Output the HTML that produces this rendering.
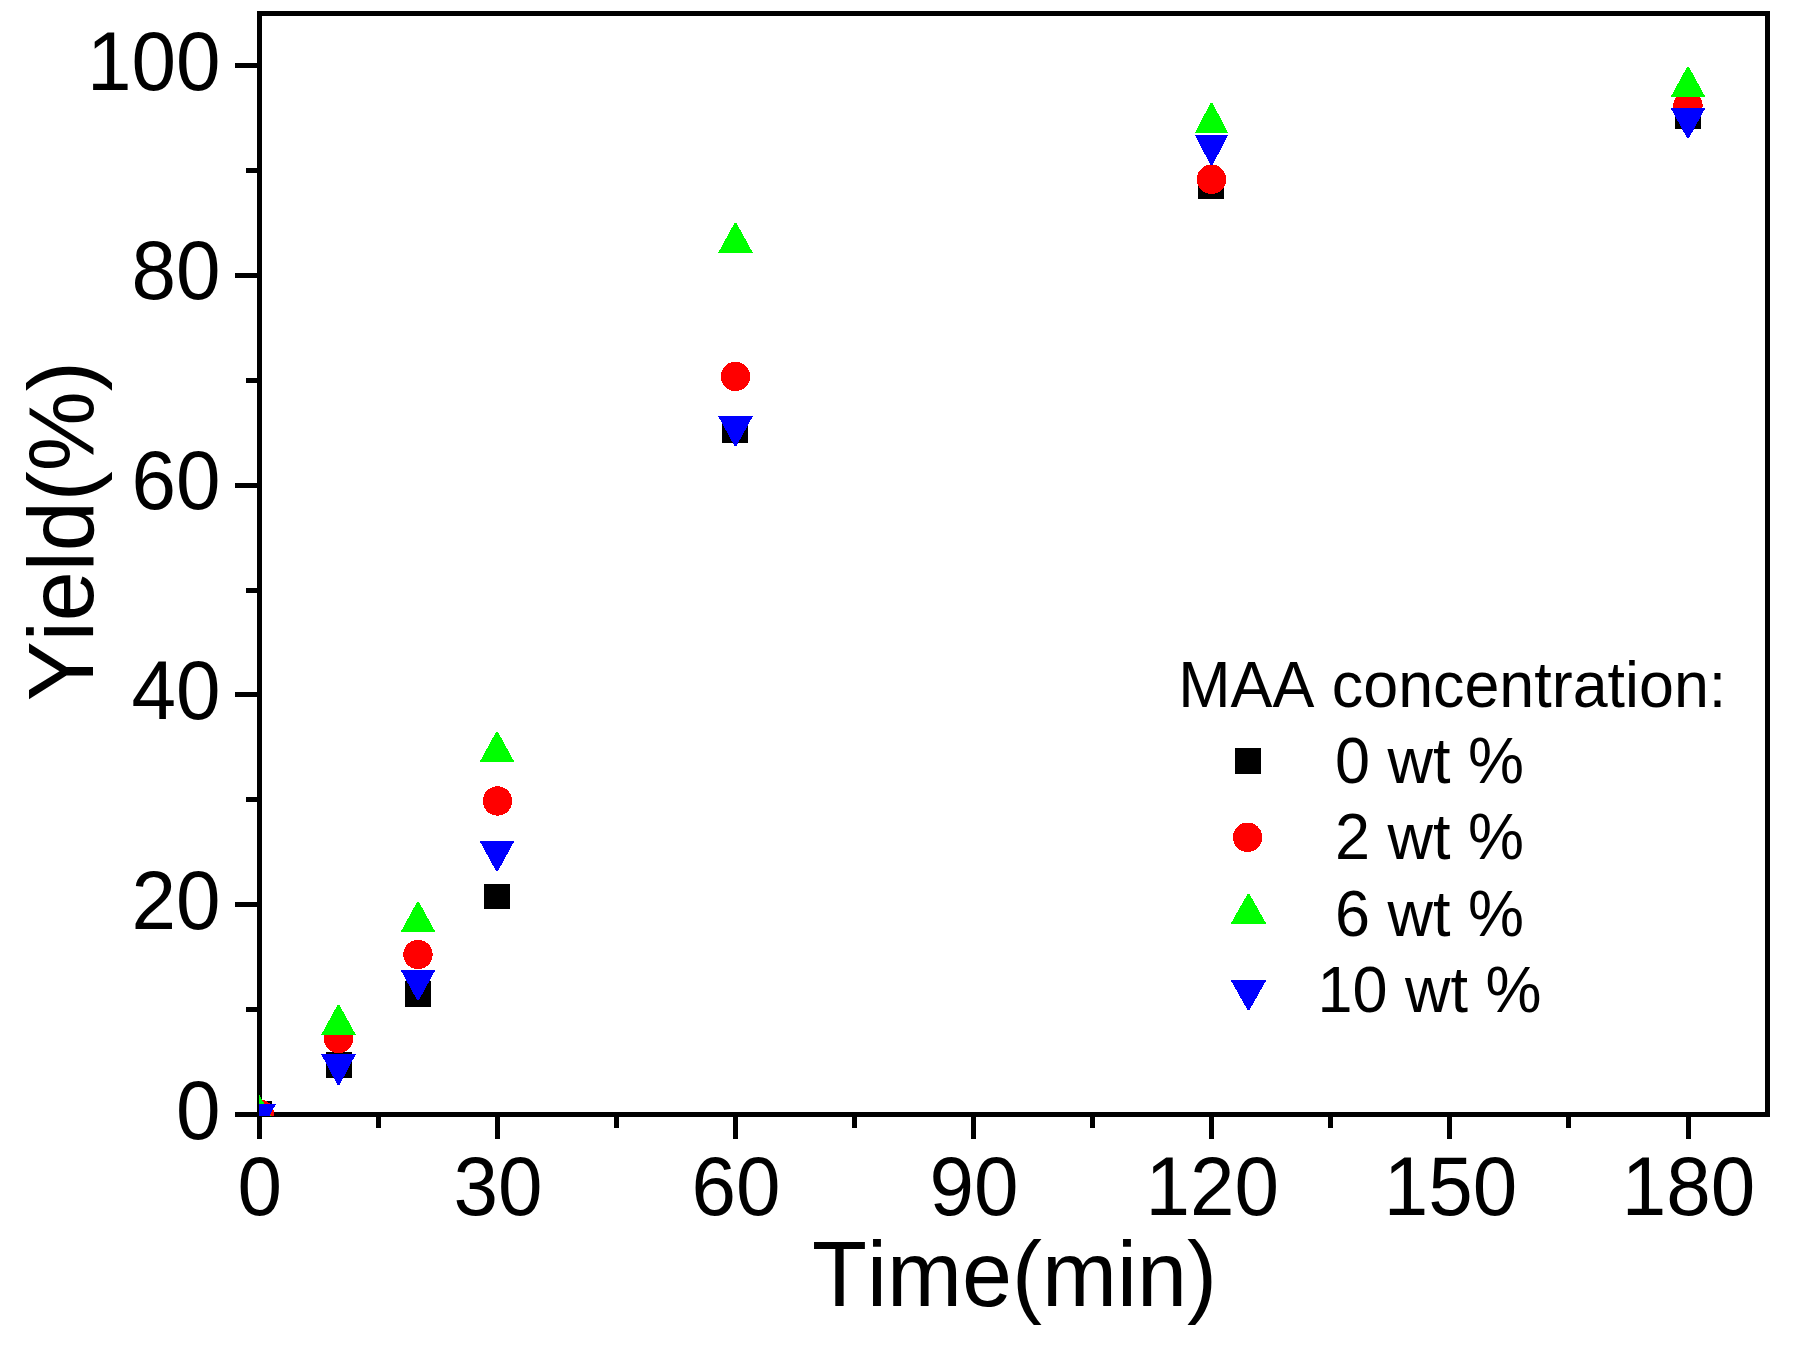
<!DOCTYPE html>
<html lang="en">
<head>
<meta charset="utf-8">
<title>Yield vs Time - MAA concentration</title>
<style>
html,body{margin:0;padding:0;background:#fff;}
body{width:1802px;height:1347px;overflow:hidden;}
svg{display:block;}
text{font-family:"Liberation Sans",Arial,Helvetica,sans-serif;fill:#000;font-kerning:none;font-variant-ligatures:none;}
.tick{font-size:80px;}
.title{font-size:90px;}
.leg{font-size:63px;}
.legt{font-size:62.8px;}
</style>
</head>
<body>
<svg width="1802" height="1347" viewBox="0 0 1802 1347">
<rect x="0" y="0" width="1802" height="1347" fill="#ffffff"/>
<defs><clipPath id="plotclip"><rect x="259" y="13" width="1509" height="1103"/></clipPath></defs>

<g fill="#000" shape-rendering="crispEdges">
<rect x="257" y="11" width="1513" height="5"/>
<rect x="257" y="1112" width="1513" height="5"/>
<rect x="257" y="11" width="5" height="1106"/>
<rect x="1765" y="11" width="5" height="1106"/>
<rect x="235" y="1112.0" width="23" height="5"/>
<rect x="246" y="1007.1" width="12" height="5"/>
<rect x="235" y="902.2" width="23" height="5"/>
<rect x="246" y="797.3" width="12" height="5"/>
<rect x="235" y="692.4" width="23" height="5"/>
<rect x="246" y="587.5" width="12" height="5"/>
<rect x="235" y="482.6" width="23" height="5"/>
<rect x="246" y="377.7" width="12" height="5"/>
<rect x="235" y="272.8" width="23" height="5"/>
<rect x="246" y="167.9" width="12" height="5"/>
<rect x="235" y="63.0" width="23" height="5"/>
<rect x="256.8" y="1116" width="5" height="23"/>
<rect x="375.9" y="1116" width="5" height="12"/>
<rect x="494.9" y="1116" width="5" height="23"/>
<rect x="614.0" y="1116" width="5" height="12"/>
<rect x="733.0" y="1116" width="5" height="23"/>
<rect x="852.1" y="1116" width="5" height="12"/>
<rect x="971.1" y="1116" width="5" height="23"/>
<rect x="1090.2" y="1116" width="5" height="12"/>
<rect x="1209.3" y="1116" width="5" height="23"/>
<rect x="1328.3" y="1116" width="5" height="12"/>
<rect x="1447.4" y="1116" width="5" height="23"/>
<rect x="1566.4" y="1116" width="5" height="12"/>
<rect x="1685.5" y="1116" width="5" height="23"/>
</g>
<g class="tick" text-anchor="end">
<text transform="translate(220.6 1138.5) scale(1 1.04)">0</text>
<text transform="translate(220.6 928.7) scale(1 1.04)">20</text>
<text transform="translate(220.6 718.9) scale(1 1.04)">40</text>
<text transform="translate(220.6 509.1) scale(1 1.04)">60</text>
<text transform="translate(220.6 299.3) scale(1 1.04)">80</text>
<text transform="translate(220.6 89.5) scale(1 1.04)">100</text>
</g>
<g class="tick" text-anchor="middle">
<text transform="translate(259.8 1215.3) scale(1 1.04)">0</text>
<text transform="translate(497.9 1215.3) scale(1 1.04)">30</text>
<text transform="translate(736.0 1215.3) scale(1 1.04)">60</text>
<text transform="translate(974.1 1215.3) scale(1 1.04)">90</text>
<text transform="translate(1212.3 1215.3) scale(1 1.04)">120</text>
<text transform="translate(1450.4 1215.3) scale(1 1.04)">150</text>
<text transform="translate(1688.5 1215.3) scale(1 1.04)">180</text>
</g>
<text class="title" transform="translate(812 1305.8) scale(1 1.02)">Time(min)</text>
<text class="title" transform="translate(93 701.3) rotate(-90) scale(1 1.02)">Yield(%)</text>
<g clip-path="url(#plotclip)" shape-rendering="crispEdges">
<rect x="246.0" y="1101.0" width="26" height="26" fill="#000"/>
<rect x="326.0" y="1052.0" width="26" height="26" fill="#000"/>
<rect x="405.0" y="981.0" width="26" height="26" fill="#000"/>
<rect x="484.0" y="884.0" width="26" height="25" fill="#000"/>
<rect x="722.0" y="417.0" width="26" height="26" fill="#000"/>
<rect x="1198.0" y="173.0" width="26" height="26" fill="#000"/>
<rect x="1675.0" y="103.0" width="26" height="26" fill="#000"/>
<circle cx="259.3" cy="1114.0" r="14.7" fill="#ff0000"/>
<circle cx="338.5" cy="1038.5" r="14.7" fill="#ff0000"/>
<circle cx="418.0" cy="954.5" r="14.7" fill="#ff0000"/>
<circle cx="497.5" cy="801.0" r="14.7" fill="#ff0000"/>
<circle cx="735.5" cy="376.4" r="14.7" fill="#ff0000"/>
<circle cx="1211.5" cy="179.3" r="14.7" fill="#ff0000"/>
<circle cx="1688.0" cy="105.5" r="14.7" fill="#ff0000"/>
<polygon points="257.5,1095.0 259.5,1095.0 275.9,1125.0 241.1,1125.0" fill="#00ff00"/>
<polygon points="337.5,1005.0 339.5,1005.0 355.9,1035.0 321.1,1035.0" fill="#00ff00"/>
<polygon points="417.0,902.0 419.0,902.0 435.4,932.0 400.6,932.0" fill="#00ff00"/>
<polygon points="496.0,732.0 498.0,732.0 514.4,762.0 479.6,762.0" fill="#00ff00"/>
<polygon points="734.5,223.0 736.5,223.0 752.9,253.0 718.1,253.0" fill="#00ff00"/>
<polygon points="1210.5,103.0 1212.5,103.0 1228.2,133.0 1194.8,133.0" fill="#00ff00"/>
<polygon points="1687.0,67.0 1689.0,67.0 1705.4,97.0 1670.6,97.0" fill="#00ff00"/>
<polygon points="257.5,1134.0 259.5,1134.0 275.9,1104.0 241.1,1104.0" fill="#0000ff"/>
<polygon points="337.5,1085.0 339.5,1085.0 355.9,1054.0 321.1,1054.0" fill="#0000ff"/>
<polygon points="417.0,1000.0 419.0,1000.0 435.4,970.0 400.6,970.0" fill="#0000ff"/>
<polygon points="496.0,871.0 498.0,871.0 514.4,841.0 479.6,841.0" fill="#0000ff"/>
<polygon points="734.5,446.0 736.5,446.0 752.9,416.0 718.1,416.0" fill="#0000ff"/>
<polygon points="1210.5,165.0 1212.5,165.0 1228.2,135.0 1194.8,135.0" fill="#0000ff"/>
<polygon points="1687.0,138.0 1689.0,138.0 1705.4,108.0 1670.6,108.0" fill="#0000ff"/>
</g>
<g shape-rendering="crispEdges">
<rect x="1235.0" y="748.0" width="26" height="26" fill="#000"/>
<circle cx="1247.6" cy="837.3" r="14.7" fill="#ff0000"/>
<polygon points="1247.5,894.0 1249.5,894.0 1266.4,924.0 1230.6,924.0" fill="#00ff00"/>
<polygon points="1247.5,1010.0 1249.5,1010.0 1266.4,980.0 1230.6,980.0" fill="#0000ff"/>
</g>
<text class="legt" transform="translate(1178.3 707) scale(1 1.02)">MAA concentration:</text>
<g class="leg" text-anchor="middle">
<text transform="translate(1429.5 783) scale(1 1.035)">0 wt %</text>
<text transform="translate(1429.5 859) scale(1 1.035)">2 wt %</text>
<text transform="translate(1429.5 935.5) scale(1 1.035)">6 wt %</text>
<text transform="translate(1429.5 1012) scale(1 1.035)">10 wt %</text>
</g>
</svg>
</body>
</html>
